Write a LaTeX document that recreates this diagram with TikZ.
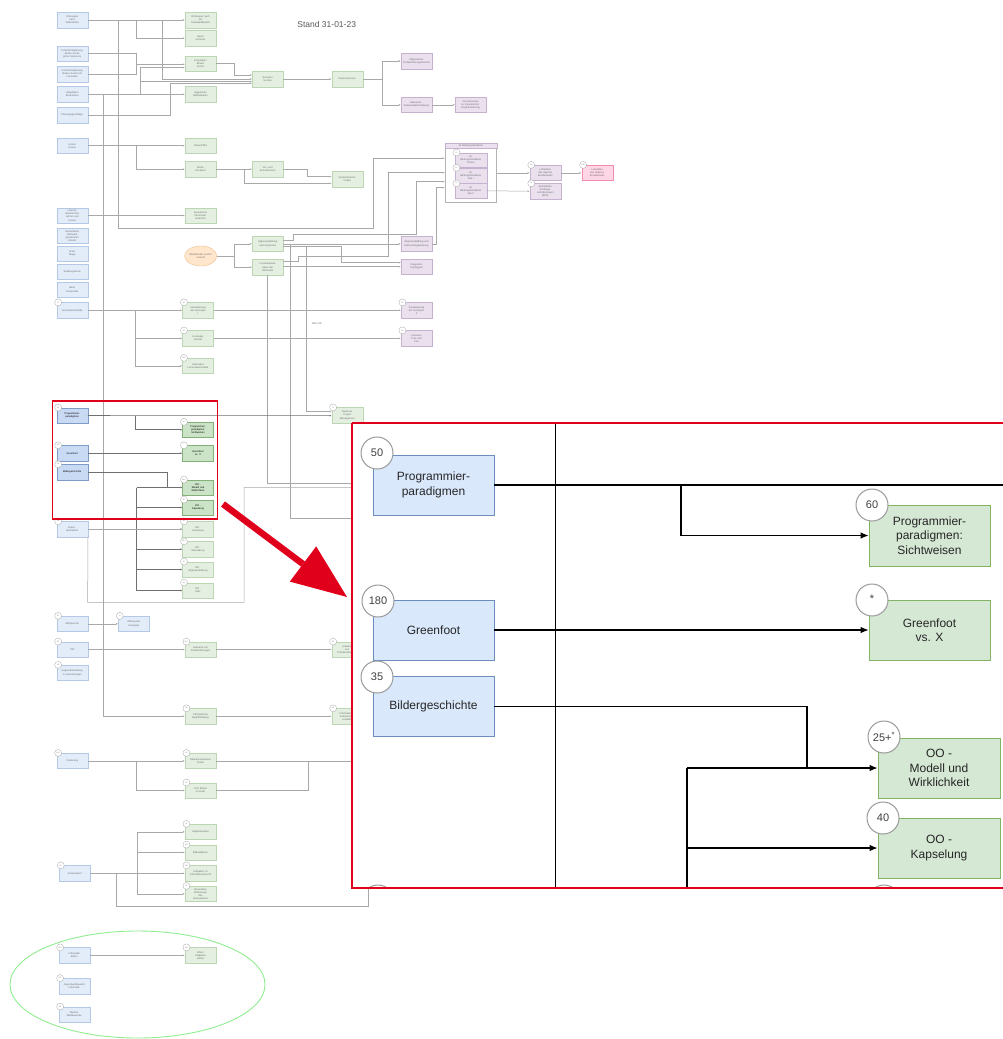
\documentclass[tikz,border=0pt]{standalone}
\usepackage{fontspec}
\setmainfont{Liberation Sans}
\usetikzlibrary{arrows.meta,shapes.geometric,calc}
\definecolor{bfill}{HTML}{E3ECF9}
\definecolor{bdraw}{HTML}{B5C9E6}
\definecolor{gfill}{HTML}{E4EFE1}
\definecolor{gdraw}{HTML}{BCD6B4}
\definecolor{pfill}{HTML}{EAE0EE}
\definecolor{pdraw}{HTML}{C5B2CF}
\definecolor{pkfill}{HTML}{FFD6E6}
\definecolor{pkdraw}{HTML}{F08CB0}
\definecolor{hbfill}{HTML}{C8DAF4}
\definecolor{hbdraw}{HTML}{7F9CC8}
\definecolor{hgfill}{HTML}{CBE3C6}
\definecolor{hgdraw}{HTML}{86B07A}
\definecolor{ibfill}{HTML}{DAE8FC}
\definecolor{ibdraw}{HTML}{6C8EBF}
\definecolor{igfill}{HTML}{D5E8D4}
\definecolor{igdraw}{HTML}{82B366}
\definecolor{ofill}{HTML}{FFE6CC}
\definecolor{odraw}{HTML}{E8B878}
\definecolor{lgrey}{HTML}{A8A8A8}
\definecolor{hgrey}{HTML}{707070}
\definecolor{txtgrey}{HTML}{707070}
\definecolor{redc}{HTML}{E0001B}
\definecolor{ellg}{HTML}{90EE90}
\tikzset{
  sbox/.style={rectangle, minimum width=31pt, minimum height=15.5pt, inner sep=0.2pt, align=center, text width=30pt, font=\fontsize{2.5}{3.1}\selectfont, text=txtgrey, line width=0.3pt},
  bluebox/.style={sbox, fill=bfill, draw=bdraw},
  greenbox/.style={sbox, fill=gfill, draw=gdraw},
  purplebox/.style={sbox, fill=pfill, draw=pdraw},
  pinkbox/.style={sbox, fill=pkfill, draw=pkdraw},
  hbluebox/.style={sbox, fill=hbfill, draw=hbdraw, text=black},
  hgreenbox/.style={sbox, fill=hgfill, draw=hgdraw, text=black},
  numc/.style={circle, draw=gray!70, fill=white, minimum size=7pt, inner sep=0, font=\fontsize{1.8}{2}\selectfont, text=txtgrey, line width=0.3pt},
  conn/.style={draw=lgrey, line width=0.5pt},
  arr/.style={conn, -{Latex[length=2pt,width=1.8pt]}},
  hconn/.style={draw=hgrey, line width=0.55pt},
  harr/.style={hconn, -{Latex[length=2pt,width=1.8pt]}},
  ibox/.style={rectangle, minimum width=121pt, minimum height=60pt, align=center, font=\fontsize{12}{14.5}\selectfont, line width=0.8pt, text=black!85},
  iblue/.style={ibox, fill=ibfill, draw=ibdraw},
  igreen/.style={ibox, fill=igfill, draw=igdraw},
  icirc/.style={circle, draw=gray!80, fill=white, minimum size=32pt, inner sep=0, font=\fontsize{11}{12}\selectfont, line width=1pt, text=black!75},
  iconn/.style={draw=black, line width=1.1pt},
  iarr/.style={iconn, -{Latex[length=8pt,width=6.5pt]}}
}
\begin{document}
\begin{tikzpicture}[x=1pt,y=-1pt]
\useasboundingbox (0,0) rectangle (1003,1039);
\fill[white] (0,0) rectangle (1003,1039);

\node[font=\fontsize{8.5}{10}\selectfont, text=black!65] (title) at (326.7,24) {Stand 31-01-23};

% ---------- left blue column
\node[bluebox] (b1) at (72.2,20) {Onlinequiz\\nach\\Selbstarbeit};
\node[bluebox] (b2) at (72.2,53.5) {Unterrichtsplanung\\binäre Suche\\(ohne Sortieren)};
\node[bluebox] (b3) at (72.2,74) {Unterrichtsplanung\\Binäre Suche mit\\Lernvideo};
\node[bluebox] (b4) at (72.2,94.3) {Hospitation\\Binärsuche};
\node[bluebox] (b5) at (72.2,115) {Planungsgrundlage};
\node[bluebox] (b6) at (72.2,145.7) {Lernen\\Lernen};
\node[bluebox] (b7) at (72.2,215.5) {Literatur\\Genetisches\\Lehren und\\Lernen};
\node[bluebox] (b8) at (72.2,235.8) {Sinnerlebnis\\Netzwerk\\genetischer\\Ansatz};
\node[bluebox] (b9) at (72.2,253.5) {Erste\\Wege};
\node[bluebox] (b10) at (72.2,271.8) {Struktogramme};
\node[bluebox] (b11) at (72.2,289.8) {Ideen\\Fachprofile};
\node[bluebox] (b12) at (72.2,310.3) {Lernendenmodelle};
\node[hbluebox] (b13) at (72.2,415.5) {Programmier-\\paradigmen};
\node[hbluebox] (b14) at (72.2,453.2) {Greenfoot};
\node[hbluebox] (b15) at (72.2,472.2) {Bildergeschichte};
\node[bluebox] (b16) at (72.2,529.2) {Daten-\\abstraktion};
\node[bluebox] (b17) at (72.2,623.8) {Affenpuzzle};
\node[bluebox] (b18) at (133.8,623.8) {Affenpuzzle\\Lösungen};
\node[bluebox] (b19) at (72.2,649.5) {TSP};
\node[bluebox] (b20) at (72.2,672.8) {Gegenüberstellung\\in Anwendungen};
\node[bluebox] (b21) at (72.2,760.8) {Codierung};
\node[bluebox] (b22) at (74.8,873.3) {Assessment};
\node[bluebox] (b23) at (74.2,955.3) {Informatik\\Eltern};
\node[bluebox] (b24) at (74.2,986) {Jugendwettbewerb\\Informatik};
\node[bluebox] (b25) at (74.2,1014.5) {Weitere\\Wettbewerbe};

% ---------- green column
\node[greenbox] (g1) at (200.5,20) {Onlinequiz nach\\mit\\Teamwettbewerb};
\node[greenbox] (g2) at (200.5,38.2) {Daten\\sortieren};
\node[greenbox] (g3) at (200.5,63.5) {Hospitation\\Binäre\\Suche};
\node[greenbox] (g4) at (200.5,94.3) {Ägyptische\\Multiplikation};
\node[greenbox] (g5) at (200.5,145.7) {Cäsarchiffre};
\node[greenbox] (g6) at (200.5,169.2) {Briefe\\schreiben};
\node[greenbox] (g7) at (200.5,215.5) {Genetischer\\Informatik-\\unterricht};
\node[greenbox] (g8) at (198,310.3) {Visualisierung\\der Konzepte\\I};
\node[greenbox] (g9) at (198,338.3) {Konzepte\\Internet};
\node[greenbox] (g10) at (198,365.8) {Alternative\\Lernendenmodelle};
\node[hgreenbox] (g11) at (198,429.7) {Programmier-\\paradigmen:\\Sichtweisen};
\node[hgreenbox] (g12) at (198,453.2) {Greenfoot\\vs. X};
\node[hgreenbox] (g13) at (198,487.5) {OO -\\Modell und\\Wirklichkeit};
\node[hgreenbox] (g14) at (198,507.5) {OO -\\Kapselung};
\node[greenbox] (g15) at (198,529.2) {OO -\\Vererbung};
\node[greenbox] (g16) at (198,549.2) {OO -\\Überladung};
\node[greenbox] (g17) at (198,569.5) {OO -\\Allgemeinbildung};
\node[greenbox] (g18) at (198,590.5) {OO -\\UML};
\node[greenbox] (g19) at (200.5,649.5) {Aufwand von\\Problemlösungen};
\node[greenbox] (g20) at (200.5,716.2) {Informatische\\Begriffsbildung};
\node[greenbox] (g21) at (200.5,760.8) {Datenkompression\\Codes};
\node[greenbox] (g22) at (200.5,790.5) {Vom Ersten\\zu binär};
\node[greenbox] (g23) at (200.5,831.8) {Aufgabenkultur};
\node[greenbox] (g24) at (200.5,852.5) {Bildaufgaben};
\node[greenbox] (g25) at (200.5,873.3) {Aufgaben im\\Informatikunterricht};
\node[greenbox] (g26) at (200.5,893.8) {Besondere\\Werkzeuge\\des\\Assessments};
\node[greenbox] (g27) at (200.5,955.3) {Eltern\\Aufgaben\\stellen};

\node[greenbox] (s1) at (267.7,79) {Sortieren\\Suchen};
\node[greenbox] (s2) at (267.7,169.2) {Ver- und\\Entschlüsseln};
\node[greenbox] (s3) at (267.7,243.8) {Allgemeinbildung\\nach Heymann};
\node[greenbox] (s4) at (267.7,267.2) {Fundamentale\\Ideen der\\Informatik};
\node[ellipse, fill=ofill, draw=odraw, line width=0.3pt, minimum width=31.4pt, minimum height=20pt, inner sep=0, align=center, font=\fontsize{2.5}{3.1}\selectfont, text=txtgrey] (el) at (200.7,256) {Wiederholen Level 2\\erreicht};

\node[greenbox] (r1) at (347.2,79) {Papierrekursion};
\node[greenbox] (r2) at (347.2,179.2) {Asymmetrische\\Codes};
\node[greenbox] (r3) at (347.2,415.3) {Business\\Project\\Management};
\node[greenbox] (r4) at (347.2,649.5) {Aufwand\\von\\Problemlösungen};
\node[greenbox] (r5) at (347.2,716.2) {Informatische\\Kulturtechnik\\vertiefen};

\node[purplebox] (p1) at (416.5,61) {Allgemeines\\Problemlösungsschema};
\node[purplebox] (p2) at (416.5,104.8) {Rekursion -\\Aufwandsabschätzung};
\node[purplebox] (p7) at (470.5,104.8) {Von Rekursion\\zu Dynamischer\\Programmierung};
\node[purplebox] (p3) at (416.5,243.8) {Allgemeinbildung und\\Erkenntnisgewinnung};
\node[purplebox] (p4) at (416.5,266.7) {Diagramm\\Unplugged};
\node[purplebox] (p5) at (416.5,310.3) {Visualisierung\\der Konzepte\\II};
\node[purplebox] (p6) at (416.5,338.3) {Lizenzen\\Free und\\Frei};

% Bildungsstandards container
\node[draw=gray!60, fill=white, minimum width=51.7pt, minimum height=59pt, inner sep=0, line width=0.4pt] (bs) at (470.8,172.8) {};
\draw[draw=pdraw, fill=pfill, line width=0.3pt] (bs.north west) rectangle ([yshift=-5pt]bs.north east);
\node[font=\fontsize{2.5}{3}\selectfont, text=txtgrey, inner sep=0] (bsh) at ([yshift=-2.5pt]bs.north) {GI-Bildungsstandards};
\node[purplebox, minimum width=31.7pt, minimum height=14.7pt] (bs1) at (470.8,160) {GI-\\Bildungsstandards\\Primar};
\node[purplebox, minimum width=31.7pt, minimum height=14.7pt] (bs2) at (470.8,175.3) {GI-\\Bildungsstandards\\Sek I};
\node[purplebox, minimum width=31.7pt, minimum height=14.7pt] (bs3) at (470.8,190.8) {GI-\\Bildungsstandards\\Sek II};
\node[purplebox] (lp) at (545.3,172.8) {Lehrpläne\\des eigenen\\Bundeslands};
\node[purplebox] (epa) at (545.3,191.2) {Einheitliche\\Prüfungs-\\anforderungen\\(EPA)};
\node[pinkbox] (pk) at (597.2,172.8) {Lehrpläne\\des anderen\\Bundeslands};

\node[font=\fontsize{2.5}{3}\selectfont, text=txtgrey] (andor) at (316.7,324) {AND-OR};

% number circles
\foreach \n/\t in {b12/70,b13/50,b14/180,b15/35,b16/20,b17/50,b18/70,b19/50,b20/50,b21/30+*,b22/20,b23/25+*,b24/120,b25/60,
  g8/20,g9/20,g10/120,g11/60,g12/*,g13/25+*,g14/40,g15/20,g16/25+*,g17/40,g18/35,g19/30+*,g20/30,g21/30,g22/30,g23/30,g24/120,g25/120,g26/35,g27/120,
  p5/50,p6/50,r3/70,r4/50,r5/50,bs1/50,bs2/50,bs3/50,lp/30,epa/30,pk/120}
  \node[numc] (c\n) at ([xshift=1.6pt]\n.north west) {\t};

% ---------- connectors: top block
\draw[arr] (b1.east) -- (g1.west);
\draw[arr] (136.7,20) |- (g2.west);
\draw[arr] (162.7,20) |- (s1.west);
\draw[arr] (118.3,20) -- (118.3,228.3) -- (373.3,228.3) -- (373.3,158.3) -- (bs.west |- 0,158.3);
\draw[arr] (b2.east) -| (136.7,64.3) -- (g3.west |- 0,64.3);
\draw[conn] (b3.east) -| (136.7,64.3);
\draw[arr] (b4.east) -- (g4.west);
\draw[arr] (140,94.3) |- (g3.west |- 0,67.7);
\draw[arr] (140,81.7) -- (s1.west |- 0,81.7);
\draw[arr] (103.3,94.3) |- (g20.west);
\draw[arr] (g3.east) -- (234.3,63.5) |- (s1.west |- 0,75);
\draw[arr] (b5.east) -| (170,83.3) -- (s1.west |- 0,83.3);
\draw[arr] (s1.east) -- (r1.west);
\draw[arr] (r1.east) -- (382,79) |- (p1.west);
\draw[arr] (382,79) |- (p2.west);
\draw[arr] (p2.east) -- (p7.west);

% second block
\draw[arr] (b6.east) -- (g5.west);
\draw[arr] (136.7,145.7) |- (g6.west);
\draw[arr] (g6.east) -- (s2.west);
\draw[arr] (244,169.2) |- (r2.west |- 0,183.3);
\draw[arr] (s2.east) -- (307,169.2) |- (r2.west |- 0,176.7);
\draw[arr] (b7.east) -- (g7.west);

% orange / Heymann
\draw[conn] (el.east) -- (234.3,256);
\draw[arr] (234.3,256) |- (s3.west);
\draw[arr] (234.3,256) |- (s4.west);
\draw[arr] (s3.east |- 0,240) -- (293.3,240) -- (293.3,234) -- (416,234) -- (416,181.7) -- (bs.west |- 0,181.7);
\draw[arr] (s3.east) -- (p3.west);
\draw[arr] (s3.east |- 0,246.5) -- (341.7,246.5) |- (p4.west |- 0,262.7);
\draw[arr] (s4.east |- 0,261.7) -- (298.3,261.7) -- (298.3,256.7) -- (388.3,256.7) -- (388.3,172.7) -- (bs.west |- 0,172.7);
\draw[arr] (s4.east |- p4.west) -- (p4.west);
\draw[arr] (p3.east) -- (436.7,243.8) |- (bs.west |- 0,187.7);
\draw[conn] (s4.south) -- (267.7,483.3) -- (352,483.3);
\draw[conn] (290.7,243.8) -- (290.7,518.3) -- (352,518.3);
\draw[arr] (306.7,246.5) -- (306.7,411.7) -- (r3.west |- 0,411.7);

% Bildungsstandards
\draw[arr] (bs.east) -- (lp.west);
\draw[arr] (bs3.east) -- (epa.west);
\draw[arr] (lp.east) -- (pk.west);

% Lernendenmodelle
\draw[arr] (b12.east) -- (g8.west);
\draw[arr] (135.7,310.3) |- (g9.west);
\draw[arr] (135.7,310.3) |- (g10.west);
\draw[arr] (g8.east) -- (p5.west);
\draw[arr] (g9.east) -- (p6.west);

% red box block
\draw[harr] (b13.east) -- (r3.west |- 0,415.7);
\draw[harr] (135.7,415.5) |- (g11.west);
\draw[harr] (b14.east) -- (g12.west);
\draw[hconn] (b15.east) -- (167.7,472.2) -- (167.7,487.5);
\draw[hconn] (136.7,487.5) -- (136.7,590.5);
\foreach \g in {g13,g14,g15,g16,g17,g18} \draw[harr] (136.7,0 |- \g.west) -- (\g.west);
\draw[arr] (b16.east) -- (g15.west);
\draw[conn] (b16.south east) -- (87.7,602.3) -- (244,602.3) -- (244,487.3) -- (352,487.3);

% lower blocks
\draw[arr] (b17.east) -- (b18.west);
\draw[arr] (b19.east) -- (g19.west);
\draw[arr] (g19.east) -- (r4.west);
\draw[arr] (g20.east) -- (r5.west);
\draw[arr] (b21.east) -- (g21.west);
\draw[arr] (136.7,760.8) |- (g22.west);
\draw[conn] (g22.east) -- (308.7,790.5) -- (308.7,760.8);
\draw[conn] (g21.east) -- (352,760.8);

% assessment
\draw[arr] (b22.east) -- (g25.west);
\draw[conn] (137.3,831.8) -- (137.3,893.8);
\draw[arr] (137.3,831.8) -- (g23.west);
\draw[arr] (137.3,852.5) -- (g24.west);
\draw[arr] (137.3,893.8) -- (g26.west);
\draw[conn] (116.7,873.3) -- (116.7,906.7) -- (368.3,906.7) -- (368.3,888);

% ellipse group
\draw[arr] (b23.east) -- (g27.west);
\draw[ellg, line width=0.9pt] (137.5,984.5) ellipse [x radius=127.5pt, y radius=53.5pt];

% red frame
\node[draw=redc, line width=1.1pt, minimum width=165pt, minimum height=118pt, inner sep=0] (redbox) at (134.8,460) {};

% red arrow
\coordinate (ra1) at (223,504);
\coordinate (ra2) at (303,564);
\draw[redc, line width=6.5pt] (ra1) -- (ra2);
\fill[redc] (347,597) -- (289.8,581.6) -- (316.2,546.4) -- cycle;

% ---------- inset
\begin{scope}
\clip (352,423) rectangle (1003,888);
\fill[white] (352,423) rectangle (1003,888);
\draw[black, line width=0.9pt] (555,423) -- (555,888);
\node[iblue] (I1) at (433.5,485) {Programmier-\\paradigmen};
\node[iblue] (I2) at (433.5,630) {Greenfoot};
\node[iblue] (I3) at (433.5,706.5) {Bildergeschichte};
\node[igreen, minimum height=61pt] (I4) at (929.5,535.5) {Programmier-\\paradigmen:\\Sichtweisen};
\node[igreen] (I5) at (929.5,630) {Greenfoot\\vs. X};
\node[igreen, minimum width=122pt] (I6) at (939,768) {OO -\\Modell und\\Wirklichkeit};
\node[igreen, minimum width=122pt] (I7) at (939,848) {OO -\\Kapselung};
\coordinate (Iend) at (1010,485);
\draw[iconn] (I1.east) -- (Iend);
\draw[iarr] (681,485) |- (I4.west);
\draw[iarr] (I2.east) -- (I5.west);
\draw[iconn] (I3.east) -- (807,706.5) -- (807,768);
\draw[iarr] (687,768) -- (I6.west);
\draw[iconn] (687,768) -- (687,890);
\draw[iarr] (687,848) -- (I7.west);
\node[icirc] (Ic1) at (377,453) {50};
\node[icirc] (Ic2) at (378,601) {180};
\node[icirc] (Ic3) at (377,677) {35};
\node[icirc] (Ic4) at (872,505) {60};
\node[icirc] (Ic5) at (872,600) {\raisebox{2pt}{*}};
\node[icirc] (Ic6) at (884,737) {25+\textsuperscript{*}};
\node[icirc] (Ic7) at (883,818) {40};
\node[icirc] (Ic8) at (378,901) {20};
\node[icirc] (Ic9) at (884,901) {20};
\end{scope}
\draw[redc, line width=2.6pt] (352,423) -- (1010,423);
\draw[redc, line width=2.6pt] (352,423) -- (352,888) -- (1010,888);
\end{tikzpicture}
\end{document}
